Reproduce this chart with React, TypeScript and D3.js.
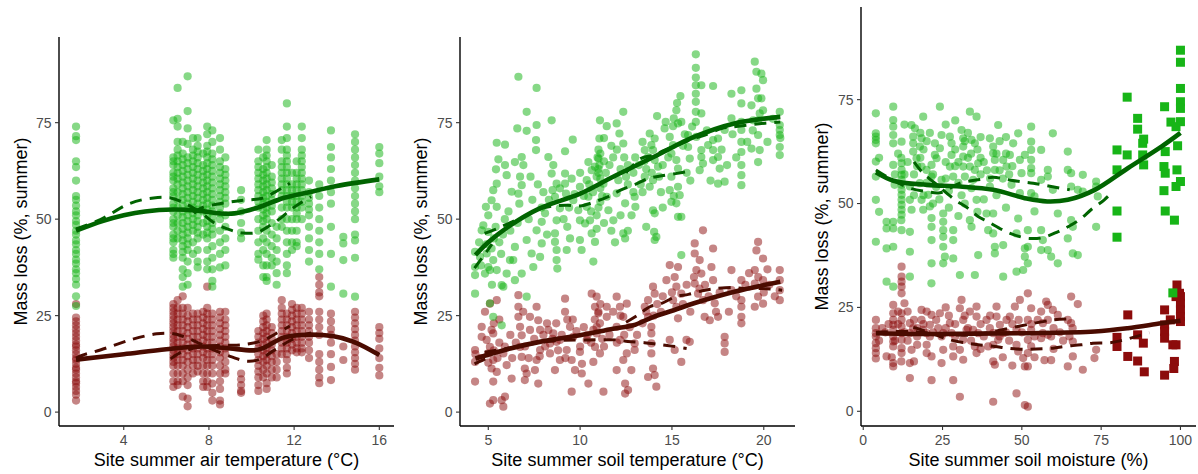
import React from "react";
import * as d3 from "d3";

// ---------- Panel 1: air temperature (sites = columns) ----------
const p1Sites = [1.76, 6.33, 6.53, 6.77, 7.0, 7.25, 7.47, 7.73, 7.92, 8.16, 8.52, 8.77, 9.51, 10.32, 10.55, 10.71, 10.95, 11.18, 11.42, 11.66, 11.9, 12.12, 12.36, 12.7, 13.18, 13.73, 14.31, 14.86, 16.0];
const p1GreenBySite = [
  [74, 71.5, 70.5, 65, 63.5, 60, 56, 55, 53.5, 52, 51, 49.5, 48.5, 47, 46, 44.5, 43.5, 42, 41, 39.5, 38.5, 37, 36, 34.5, 33, 30, 27.5],
  [75.6, 66, 65, 64, 62, 61, 60, 58, 57, 56, 54, 53, 52, 50, 49, 48, 46, 45, 44, 42, 41, 40],
  [84, 76, 74, 70, 68, 66.5, 65, 63.5, 62, 60.5, 59, 57, 55, 53, 51, 49, 47, 45],
  [70, 67, 65.5, 64, 62.5, 61, 59.5, 58, 56.5, 55, 53.5, 52, 50.5, 49, 47.5, 46, 44.5, 43, 41.5, 40, 37, 35, 32.5],
  [87, 78, 73.5, 69.5, 66, 64.5, 63, 61.5, 60, 58.5, 57, 55.5, 54, 52.5, 51, 49.5, 48, 46.5, 45, 43.5, 42, 39, 36, 33],
  [71, 68, 66.5, 65, 63.5, 62, 60.5, 59, 57.5, 56, 54.5, 53, 51.5, 50, 48.5, 47, 44, 41],
  [71, 69, 67.5, 66, 64.5, 63, 61.5, 60, 58.5, 57, 55.5, 54, 52.5, 51, 49.5, 48, 46.5, 45, 42, 39, 37.5],
  [67, 64, 62.5, 61, 59.5, 58, 56.5, 55, 53.5, 52, 49, 46],
  [74, 72, 69, 67.5, 66, 64.5, 63, 61.5, 60, 58.5, 57, 55.5, 54, 52.5, 51, 49.5, 48, 46.5, 45, 42, 39, 37],
  [73, 70, 67, 65.5, 64, 62.5, 61, 59.5, 58, 56.5, 55, 53.5, 52, 50.5, 49, 47.5, 46, 43, 40, 37, 34, 32.5],
  [71, 68, 65, 63.5, 62, 60.5, 59, 57.5, 56, 54.5, 53, 51.5, 50, 47, 44, 41, 37.5],
  [66, 63, 61.5, 60, 58.5, 57, 55.5, 54, 51, 48, 45, 42, 38],
  [57.5, 55, 52, 49, 46.5, 45],
  [68, 65, 63.5, 62, 60.5, 59, 57.5, 56, 54.5, 53, 50, 47, 44, 41, 39.5],
  [66, 63, 61.5, 60, 58.5, 57, 55.5, 54, 52.5, 51, 49.5, 48, 45, 42, 38, 35],
  [70.5, 68, 66.5, 65, 63.5, 62, 60.5, 59, 57.5, 56, 54.5, 53, 51.5, 50, 47, 44, 41, 38, 35, 34],
  [64, 61, 59.5, 58, 56.5, 55, 53.5, 52, 49, 46, 43, 40, 38],
  [48, 45, 42, 39, 36, 33],
  [70.5, 68, 65, 63.5, 62, 60.5, 59, 57.5, 56, 53, 50, 48],
  [80, 74, 71, 68, 66.5, 65, 63.5, 62, 60.5, 59, 57.5, 56, 54.5, 53, 50, 47, 44, 41, 38, 36],
  [62, 59, 57.5, 56, 54.5, 53, 50, 47, 44, 42],
  [65, 62, 60.5, 59, 57.5, 56, 54.5, 53, 51.5, 50, 47, 44, 43],
  [74, 71, 68, 66.5, 65, 63.5, 62, 60.5, 59, 57.5, 56, 54.5, 53, 50],
  [60, 57, 55.5, 54, 52.5, 51, 48, 45, 42, 39],
  [59, 56, 53, 50, 47, 44, 41, 37],
  [73, 68.7, 66, 63, 60, 57, 54, 48, 41, 32.5],
  [45.4, 43.7, 39.4, 30.7],
  [72, 70, 68, 66, 64, 62, 60, 58, 56, 54, 52, 50, 46, 44.5, 40, 29.9],
  [68.7, 67, 64.5, 61, 58.5, 57],
];
const p1RedBySite = [
  [28, 24.5, 23.5, 22.5, 21.5, 20.5, 19.5, 18.5, 17.5, 17, 16, 15, 14, 13.5, 12.5, 11.5, 11, 10, 9, 8, 7.5, 6.5, 5.5, 4.5, 3],
  [28, 27, 26, 25, 24, 23, 22, 21, 20, 19, 18, 17, 16, 15, 14, 13, 12, 10, 8, 6.5],
  [29, 27, 25.5, 24, 22.5, 21, 19.5, 18, 16.5, 15, 13.5, 12, 10, 8, 7],
  [30, 27, 25.5, 24, 22.5, 21, 19.5, 18, 16.5, 15, 13.5, 12, 10, 8, 4],
  [27, 25, 23.5, 22, 20.5, 19, 17.5, 16, 14.5, 13, 11, 9, 7, 3.5, 1.5],
  [25.5, 24, 22.5, 21, 19.5, 18, 16.5, 15, 13.5, 12, 10],
  [25.5, 24, 22.5, 21, 19.5, 18, 16.5, 15, 13.5, 12, 10.5],
  [26, 24.5, 23, 21.5, 20, 18.5, 17, 15.5, 14, 12, 10, 8, 6.5],
  [32.5, 27, 25.5, 24, 22.5, 21, 19.5, 18, 16.5, 15, 13.5, 12, 10, 8, 6.5],
  [25.5, 24, 22.5, 21, 19.5, 18, 16.5, 15, 13.5, 12, 10, 7.4, 5, 3],
  [26, 24.5, 23, 21.5, 20, 18.5, 17, 15.5, 14, 12, 10, 8, 6, 3, 2],
  [26, 24, 22.5, 21, 19.5, 18, 16.5, 15, 13, 11, 10],
  [10, 8.5, 7, 5.5, 5],
  [21, 19.5, 18, 16.5, 15, 13.5, 12, 10.5, 9, 7, 5.5],
  [25, 23.5, 22, 20.5, 19, 17.5, 16, 14.5, 13, 11, 9],
  [25.5, 24, 22.5, 21, 19.5, 18, 16.5, 15, 13.5, 12, 10, 7.5, 6],
  [22, 20.5, 19, 17.5, 16, 14.5, 13, 11, 9],
  [15, 13, 11, 9],
  [29, 27, 25.5, 24, 22.5, 21, 19.5, 18, 16.5, 15],
  [25.5, 24, 22.5, 21, 19.5, 18, 16.5, 15, 13.5, 11.5, 10],
  [28, 26.5, 25, 23.5, 22, 20.5, 19, 17.5, 16],
  [27, 25.5, 24, 22.5, 21, 19.5, 18, 16.5, 15.5],
  [27, 25.5, 24, 22.5, 21, 19.5, 18, 16.5, 15.5],
  [26, 24, 22.5, 21, 19.5, 18, 16, 14],
  [35, 33, 31, 30, 26, 24, 22, 20, 15, 13, 11, 9, 7.5],
  [25.5, 23.5, 21.5, 20, 18, 15, 11.7, 8.3],
  [17, 13.5],
  [26, 24.5, 23, 21.5, 20, 18.5, 17, 15.5, 14, 12.5, 11],
  [22, 20.5, 19, 16.5, 14, 11.5, 9.5],
];
const p1GreenSolid = [[1.76, 47], [3, 49.5], [4, 51], [5, 52], [6.3, 52.5], [7.5, 52.2], [8.5, 51.5], [9.2, 51.5], [10.3, 53], [11.5, 55.5], [12.7, 57], [14, 58.6], [16, 60.3]];
const p1RedSolid = [[1.76, 13.6], [4, 15], [6, 16.3], [7.6, 17], [8.8, 16.6], [10.1, 16], [10.5, 16.5], [11.5, 19.3], [12.3, 20], [13.8, 19.7], [14.8, 18.2], [16, 14.8]];
const p1GreenDashed = [
  [[1.76, 47.5], [2.9, 49.9], [4.3, 54.1], [5.4, 55.5], [6.2, 55.5], [6.8, 54.3], [7.6, 51.8], [8.2, 49.2], [9.0, 47.2], [9.6, 46.4], [10.3, 46.6], [10.7, 47.8], [11.3, 50], [11.8, 52.3], [12.3, 54.2], [12.8, 55.8]],
  [[7.3, 51.5], [7.6, 52.8], [8.7, 54.2], [9.6, 54.9], [10.5, 55.4], [11.1, 57], [11.5, 58.3], [11.8, 59.3]],
];
const p1RedDashed = [
  [[1.76, 14], [2.1, 14.8], [2.9, 16.1], [4.3, 18.7], [5.55, 20.3], [6.2, 20.4], [6.8, 19.6], [7.4, 18.2], [8.05, 16.5], [9.07, 14.3], [9.8, 13.2], [10.4, 13.7], [11, 15.8], [11.8, 18.5], [12.3, 19.8], [12.8, 20.5]],
  [[6.2, 13.8], [6.7, 15.5], [7.5, 16.8], [8.5, 17.3], [9.5, 17.4], [10.5, 18.5], [11.2, 20.5], [11.8, 22.3]],
];

// ---------- Panel 2: soil temperature ----------
const p2Green = [
  [6.64, 86.9], [7.63, 84.0], [7.09, 77.8], [6.58, 73.5], [5.46, 69.8], [5.91, 69.3], [7.09, 72.9], [7.6, 70.5], [7.6, 67.9], [8.45, 75.6], [7.63, 74.4], [9.6, 70.6], [9.18, 67.6],
  [5.55, 65.5], [5.42, 62.9], [5.91, 64], [6.0, 61.4], [6.45, 64.8], [6.82, 66.1], [6.91, 64], [6.73, 61], [6.82, 58.8], [6.64, 56.6], [6.69, 54],
  [5.46, 59.2], [5.27, 57.5], [5.18, 54.9], [5.46, 53.2], [4.87, 53.2], [6.27, 57.1], [4.73, 48.4], [4.64, 47.1], [5.0, 46.7],
  [4.28, 41.5], [4.55, 40.2], [4.91, 41.1], [5.18, 42.4], [5.27, 39.4], [5.0, 37.6], [4.82, 35.9], [5.09, 36.8], [4.28, 37.6], [4.28, 35.5], [4.28, 30.7],
  [5.46, 36.8], [5.73, 32.9], [5.82, 32.5], [6.0, 35.9], [6.18, 39.4], [5.09, 28.2], [5.27, 24.7], [5.73, 22.5], [7.09, 29.9],
  [6.45, 34.2], [6.82, 35.9], [6.36, 39.4], [6.45, 42.8],
  [7.09, 44.6], [7.36, 41.1], [7.45, 37.6], [7.82, 40.2], [7.91, 43.7], [7.63, 47.1], [7.91, 49.3], [8.09, 51.5],
  [8.27, 66.1], [8.54, 64], [8.45, 61.8], [8.72, 59.2], [8.63, 55.8], [8.9, 52.8], [8.72, 49.7], [8.63, 46.3], [8.63, 44.1], [8.72, 42], [8.72, 39.4], [8.76, 37.2],
  [9.18, 61.8], [9.18, 59.2], [9.23, 56.6], [9.54, 60.5], [9.99, 58.4], [9.63, 54.9], [9.9, 52.3], [9.99, 49.7], [9.45, 45], [9.27, 42],
  [10.45, 64.8], [10.63, 62.7], [10.81, 63.6], [11.0, 65.7], [11.05, 70.9], [11.08, 75.6], [11.45, 74.1], [11.99, 74.8], [12.14, 72.2], [12.35, 69.6],
  [10.36, 60.1], [10.45, 55.8], [10.36, 53.2], [10.54, 49.7], [10.63, 46.3], [10.81, 44.1], [10.72, 39], [10.08, 42], [9.99, 44.6], [10.27, 48.9],
  [11.27, 59.2], [11.45, 55.8], [11.54, 52.3], [11.81, 49.7], [11.99, 56.7], [12.45, 54.1], [12.35, 46.3], [12.45, 45], [12.08, 60.1], [12.35, 77.8],
  [11.0, 68], [11.1, 67], [11.0, 63], [10.9, 61], [11.1, 58], [11.2, 56], [11.0, 53], [10.9, 51], [11.4, 62], [11.6, 64], [11.8, 66], [12.0, 68], [12.4, 66], [12.6, 64], [12.5, 61], [12.6, 59],
  [12.9, 62], [13.2, 64], [13.0, 66], [13.4, 70], [13.6, 63], [13.4, 57], [12.8, 51], [12.6, 47], [12.2, 63], [11.7, 69], [11.3, 71], [10.2, 56], [9.7, 56.5], [9.4, 53], [10.0, 62],
  [8.3, 55], [8.0, 57], [7.7, 59], [7.3, 61], [7.4, 55], [7.9, 53], [8.2, 46], [7.2, 50], [6.6, 49], [6.2, 47], [5.8, 46], [5.6, 44], [5.4, 48], [5.0, 51], [4.5, 44], [4.6, 38], [5.2, 33],
  [5.7, 41], [6.1, 52], [5.9, 50], [4.9, 43.5], [5.3, 45], [10.7, 57], [10.5, 59], [11.3, 65],
  [11.1, 60.5], [11.0, 62], [11.05, 64], [10.95, 66], [11.1, 54.5], [10.6, 52], [10.9, 47.5], [11.3, 49], [9.1, 50], [9.3, 48], [8.9, 58], [8.5, 57.5], [12.9, 57], [13.9, 62], [13.5, 65],
  [16.3, 92.7], [16.3, 89.2], [16.3, 86.7], [16.3, 84.7], [16.3, 82.5], [16.3, 80.4], [16.3, 77.8], [16.3, 75.2], [16.6, 84.7], [16.6, 77.4], [17.24, 84.5],
  [15.46, 81.9], [15.28, 80.1], [15.24, 78.2], [15.1, 76.1], [15.06, 74.1], [15.33, 74.8], [15.51, 75.2], [14.66, 75.2], [14.19, 76.7], [14.6, 73.5],
  [13.79, 72.2], [14.06, 70.9], [13.88, 69.2], [13.52, 67.9], [13.7, 66.1], [13.97, 67.9], [14.06, 65.3], [14.24, 63.6],
  [13.52, 61], [13.79, 58.4], [13.97, 60.1], [12.97, 55.8], [13.01, 53.2], [13.97, 52.3], [14.06, 51.5], [14.03, 46.7], [14.15, 45.4], [14.06, 44.6],
  [14.88, 71.3], [15.06, 69.2], [14.97, 67], [15.24, 65.3], [15.33, 63.1], [14.97, 61], [14.88, 57.5], [15.33, 58.4], [15.42, 56.2], [15.24, 54.1], [14.97, 54.5], [15.51, 50.6], [15.33, 50.6],
  [15.88, 71.8], [15.88, 68.7], [15.97, 65.7], [16.33, 71.3], [16.6, 67.9], [16.6, 66.1], [16.69, 64.4], [16.51, 62.7], [16.97, 69.2], [17.24, 70.5], [17.51, 70.9], [17.24, 67.9], [17.24, 65.3], [17.51, 66.1], [17.6, 63.1], [17.51, 59.2], [17.87, 59.7],
  [17.87, 73.1], [18.24, 82.5], [18.24, 76.1], [18.78, 83.4], [18.78, 80], [18.78, 75.2], [18.78, 73.1], [18.78, 70], [18.78, 67.4], [18.78, 64], [18.78, 61.4], [18.78, 58.8],
  [19.33, 79.5], [19.42, 75.6], [19.69, 71.8], [19.33, 68.3], [19.78, 67.9], [19.51, 90.8], [19.6, 88.2], [19.87, 87.7], [19.96, 86], [19.6, 83.8], [19.69, 81.3], [19.87, 81.3], [19.78, 77.4], [19.96, 78.2], [19.69, 64.8], [19.69, 75.6],
  [20.87, 77.8], [20.87, 74.4], [20.87, 73.1], [20.87, 71.8], [20.87, 68.7], [20.87, 66.6], [15.51, 40.7],
  [14.3, 61], [14.5, 64], [14.8, 66], [15.6, 69], [15.7, 72], [16.1, 74], [16.9, 73], [17.7, 68], [18.3, 72], [18.5, 66], [19.1, 70], [19.4, 73], [20.2, 70], [20.5, 76], [20.9, 71],
  [16.0, 60], [15.8, 62], [14.4, 57], [14.5, 53], [13.3, 59], [12.2, 51], [11.7, 47], [11.9, 44], [13.6, 48], [17.1, 60], [18.0, 64], [15.1, 56],
];
const p2Red = [
  [4.28, 16.1], [4.28, 13.0], [4.28, 7.9], [4.64, 22.1], [4.64, 19.5], [4.91, 18.7], [5.18, 21.3], [5.27, 20.4], [5.09, 16.9], [5.0, 15.2], [5.27, 13.5], [5.18, 11.3], [5.27, 7.9], [5.46, 10.4],
  [4.82, 26], [5.09, 28.1], [5.46, 29], [5.09, 2.2], [5.27, 3.1], [5.73, 3.1], [5.91, 4], [5.82, 1.4],
  [5.82, 15.2], [6.0, 12.2], [6.27, 8.7], [6.64, 30.3], [6.64, 27.3], [6.64, 24.7], [6.73, 22.1], [6.82, 19.9], [6.73, 16.9], [6.82, 14.3], [6.99, 11.3], [7.09, 10], [6.99, 8.3],
  [7.27, 24.7], [7.27, 21.3], [7.63, 27.3], [7.72, 23.8], [7.82, 21.3], [7.82, 16.1], [7.72, 7.4], [7.63, 13.5], [7.54, 10.9],
  [8.27, 21.3], [8.54, 20.4], [8.72, 18.2], [8.36, 15.2], [8.9, 13.5], [8.63, 10.9], [8.9, 18.7], [8.36, 17.8],
  [9.18, 29.4], [9.18, 26], [9.45, 22.1], [9.63, 19.5], [9.27, 16.1], [9.54, 13.5], [9.72, 10.9], [9.54, 5.3], [10.09, 10], [9.99, 15.6], [10.36, 18.7], [10.45, 7.4],
  [10.63, 30.7], [10.9, 29.9], [10.81, 27.3], [10.99, 25.6], [11.08, 23], [10.9, 20.4], [10.81, 16.9], [11.08, 15.2], [10.72, 13.0], [11.27, 5.3], [10.72, 21.3], [11.45, 27.3], [11.45, 24.7],
  [11.99, 29.9], [12.17, 27.3], [12.54, 28.1], [12.35, 24.7], [11.99, 22.1], [12.17, 18.7], [12.54, 15.2], [12.35, 13.5], [11.99, 10.9], [12.45, 7.4], [12.45, 4.8],
  [16.69, 47.1], [16.24, 43.7], [16.24, 41.1], [16.51, 39.4], [16.33, 36.8], [16.6, 35.9], [16.24, 33.3], [16.42, 30.7], [16.69, 29], [16.78, 24.7],
  [14.88, 38.1], [15.33, 37.6], [15.15, 35], [14.7, 34.2], [15.24, 32.5], [15.51, 30.7], [15.06, 29], [15.24, 27.3], [15.33, 24.3], [14.88, 18.7], [15.15, 16.1], [15.51, 13], [15.79, 18.7], [15.97, 18.2],
  [13.97, 32.5], [14.06, 30.7], [13.7, 29], [13.52, 27.3], [13.7, 24.7], [13.88, 22.1], [13.88, 20.4], [13.88, 17.8], [13.88, 15.2], [14.06, 9.6], [13.97, 11.3], [14.15, 6.6], [13.7, 9.1],
  [12.97, 17.8], [12.97, 16.1], [12.79, 10.9], [12.61, 5.7],
  [17.24, 42.4], [17.15, 37.6], [17.24, 34.2], [17.33, 28.2], [17.51, 24.7], [17.06, 23.8], [17.87, 19.5], [17.87, 17.8], [17.87, 15.6], [18.24, 36.8], [18.24, 31.6], [18.78, 34.2], [18.78, 29], [18.78, 27.3], [18.78, 24.7], [18.78, 23],
  [19.51, 36.8], [19.51, 33.3], [19.69, 44.1], [19.6, 41.9], [19.96, 39.8], [19.96, 34.2], [19.69, 29.9], [19.51, 27.3], [19.96, 28.1], [20.87, 36.8], [20.87, 34.2], [20.87, 31.6], [20.87, 29],
  [10.9, 22], [11.0, 26], [11.1, 28], [10.8, 24], [11.2, 19], [11.3, 17], [10.6, 18], [10.4, 20], [10.2, 22], [10.0, 17], [9.8, 21], [9.0, 20], [8.8, 16], [8.5, 19], [8.2, 23], [8.0, 20],
  [7.5, 19], [7.0, 17], [6.5, 18], [6.2, 20], [5.9, 17], [5.6, 18], [5.3, 16], [5.5, 14], [4.6, 14], [4.3, 15], [5.0, 12.8], [6.3, 14], [7.8, 14.5], [9.2, 14], [10.1, 12.5],
  [11.6, 20], [12.0, 18], [12.4, 20], [12.7, 22], [13.4, 23], [13.6, 26], [14.2, 28], [14.4, 26], [14.0, 25], [14.5, 30], [15.0, 31], [15.6, 28], [15.8, 33], [16.2, 35], [16.5, 32],
  [16.0, 26], [17.0, 30], [17.6, 31], [18.1, 26], [18.5, 30], [19.0, 33], [19.2, 36], [19.7, 35], [20.3, 33], [20.0, 31], [20.6, 30], [20.2, 37], [17.4, 26], [16.8, 33], [13.1, 20],
  [12.2, 25], [11.8, 26], [9.6, 24], [9.3, 24], [8.7, 23], [8.1, 17], [7.2, 14], [6.9, 26], [5.6, 24], [5.3, 23],
];
const p2GreenSolid = [[4.3, 40.7], [5, 44], [6.2, 48.4], [7.8, 52.8], [10, 56.6], [11.8, 61], [14, 66.1], [16.2, 71.3], [18.4, 74.8], [20.9, 76.5]];
const p2RedSolid = [[4.3, 13.9], [6.2, 16.5], [7.8, 18.2], [10, 19.9], [11.8, 21.6], [12.9, 22.5], [14, 24.7], [15.1, 26.4], [16.2, 28.2], [18.4, 31.2], [20.9, 33.8]];
const p2GreenDashed = [
  [[4.25, 37.3], [4.7, 40.2], [5.2, 43.5]],
  [[4.8, 46.3], [5.5, 47.6], [6.3, 49.3], [6.9, 50.6], [7.6, 52.3], [8.5, 53.4], [9.3, 53.6], [10, 53.4], [10.8, 54.5], [11.5, 55.8], [12.2, 57.5], [13, 59], [13.7, 60.5], [14.3, 61.1], [15.2, 61.8], [15.9, 62.4]],
  [[12.5, 62], [13.3, 65.7], [14, 66.6], [14.8, 68.3], [15.3, 69.2], [16.2, 70.9], [16.8, 71.8], [17.7, 73.5], [18.3, 73.9], [19.5, 74.6], [20.9, 75.2]],
];
const p2RedDashed = [
  [[4.25, 12.5], [4.7, 13.5], [5.2, 14.5]],
  [[4.8, 15.5], [6, 16.5], [7.5, 17.8], [9, 18.6], [10.5, 18.7], [12, 18.7], [12.6, 18.3], [13.5, 18], [14.2, 17.6], [15, 17.1], [15.8, 16.5]],
  [[12.5, 23.3], [13.1, 25], [13.8, 27.3], [14.4, 28.1], [15.2, 29.9], [15.9, 30.5], [16.8, 31.6], [17.4, 32], [18.3, 32.3], [18.9, 32], [19.9, 32], [20.6, 31.8], [21, 31.6]],
];

// ---------- Panel 3: soil moisture ----------
const p3Green = [
  [3.98, 71.7], [3.98, 66.9], [3.98, 66.1], [3.98, 65.3], [3.98, 64.5], [3.98, 60.1], [3.98, 56.5], [3.98, 50.9], [3.98, 40.8],
  [9.46, 73.3], [9.46, 70.1], [9.46, 68.5], [9.46, 66.5], [9.46, 64.5], [9.46, 59.3], [9.9, 54.5],
  [7.36, 45.6], [7.36, 44], [9.46, 45.6], [9.46, 44], [7.36, 39.2], [9.46, 39.6], [12.09, 43.6],
  [12.09, 59.7], [12.09, 58.1], [12.09, 56.9], [12.09, 55.7], [12.09, 54.5], [12.09, 53.3], [12.09, 52.1], [12.09, 50.9], [12.09, 49.7], [12.09, 48.5], [12.09, 47.3], [12.09, 64.9],
  [14.71, 43.2], [14.71, 38.4], [14.71, 32.4], [7.36, 31.2], [9.46, 30], [21.5, 30.8],
  [15.2, 68.9], [16.29, 68.1], [15.76, 66.1], [15.76, 64.5], [15.76, 62.5], [18.91, 70.9], [18.39, 65.7], [17.86, 63.7], [16.81, 60.9], [18.39, 58.9], [19.96, 58.1], [21.54, 59.3], [23.11, 60.9], [24.17, 63.3],
  [14.71, 54.1], [14.71, 50.9], [15.24, 48.5], [17.86, 54.9], [18.39, 50.9], [18.91, 48.5], [21.01, 49.3], [20.49, 52.1], [21.54, 56.5],
  [21.54, 46.5], [21.54, 44.4], [21.54, 41.2], [21.54, 35.6], [25.22, 47.6], [25.22, 45.6], [25.22, 43.6], [25.22, 42], [25.22, 39.6], [25.74, 37.2], [25.22, 35.6], [28.37, 43.6], [28.37, 41.2], [28.37, 36.8], [30.47, 32.8],
  [24.17, 73.3], [24.69, 66.5], [22.59, 64.5], [22.59, 61.7], [24.69, 55.7], [27.32, 66.1], [27.84, 64.5], [27.84, 61.7], [27.32, 58.9], [28.37, 56.5], [30.99, 67.7], [31.52, 65.7], [31.52, 63.7], [31.52, 61.3], [31.52, 58.9], [32.04, 56.5],
  [33.62, 72.1], [35.72, 70.9], [34.14, 65.3], [35.19, 64.5], [33.62, 58.9], [35.19, 58.1], [36.24, 59.7], [34.66, 55.7], [34.14, 53.7], [35.72, 50.9],
  [33.62, 46], [34.14, 44.4], [35.19, 32.8], [36.24, 37.6],
  [39.92, 65.7], [40.97, 63.7], [41.49, 60.5], [41.49, 58.1], [42.54, 68.9], [40.97, 62.1], [39.92, 54.1], [38.87, 47.6], [40.97, 47.6], [39.39, 43.6], [40.97, 42.8], [41.49, 39.6], [41.49, 38],
  [44.12, 40], [44.12, 32.4], [44.12, 60.5], [45.17, 58.9], [46.22, 61.7], [46.75, 54.5], [47.27, 64.5], [48.85, 66.9], [49.37, 60.5], [50.95, 61.7], [48.85, 46.4], [48.32, 42.8], [48.32, 33.6], [50.42, 34],
  [49.37, 52.5], [49.9, 57.3], [50.95, 39.2], [50.95, 37.2],
  [52.94, 68.5], [52.94, 64.9], [52.94, 62.9], [52.94, 60.5], [52.94, 58.5], [52.94, 57.3], [52.94, 52.5], [53.99, 51.7], [53.99, 48.1], [51.89, 43.6], [51.89, 39.6], [51.89, 35.6],
  [56.09, 62.9], [56.09, 55.7], [58.19, 58.1], [58.19, 56.5], [59.77, 66.9], [59.77, 53.3], [61.34, 47.6], [56.09, 43.6], [56.62, 41.2], [56.09, 38.8], [58.19, 38.8], [59.24, 37.2], [61.34, 35.6],
  [64.49, 62.5], [64.49, 58.1], [65.54, 57.3], [65.54, 54.1], [69.22, 56.9], [67.64, 53.3], [69.22, 52.9], [65.54, 46], [66.07, 44.4], [64.49, 41.6], [66.07, 38], [67.64, 37.6],
  [73.42, 55.3], [73.42, 54.1], [73.94, 51.7], [73.42, 44.4],
  [11, 62], [12, 61], [13, 57], [14, 60], [16, 57], [17, 59], [18, 61], [19, 63], [20, 65], [20, 55], [22, 57], [23, 54], [26, 56], [26, 60], [27, 53], [29, 63], [29, 59], [30, 55], [31, 52],
  [32, 65], [33, 61], [34, 62], [36, 63], [37, 61], [37, 57], [38, 60], [39, 58], [40, 56], [42, 62], [43, 58], [44, 56], [45, 62], [46, 57], [47, 59], [12, 46], [16, 52], [19, 52], [22, 50],
  [24, 51], [27, 49], [30, 47], [32, 50], [36, 48], [38, 51], [42, 52], [45, 49], [13, 69], [18, 67], [21, 67], [26, 69], [29, 70], [33, 67], [37, 66], [43, 65], [45, 66], [30, 60], [10, 57], [5, 61], [5, 48],
];
const p3Red = [
  [3.98, 18.8], [3.98, 18], [3.98, 16.4], [3.98, 15.2], [3.98, 14], [3.98, 12.7], [3.98, 20],
  [7.36, 13.2], [9.46, 23.6], [9.46, 22], [9.46, 20.8], [9.46, 19.6], [9.46, 18], [9.46, 16.8], [9.46, 15.6], [9.46, 11.6], [9.46, 10.8], [9.46, 25.6],
  [12.09, 34.8], [12.09, 32.4], [12.09, 31.2], [12.09, 30], [12.09, 28.4], [12.09, 23.6], [12.09, 22], [12.09, 20.4], [12.09, 18.8], [12.09, 17.2], [12.09, 15.2], [12.09, 14],
  [14.71, 21.2], [14.71, 18.8], [15.76, 20], [14.71, 11.6], [14.71, 8], [15.24, 14.8],
  [18.39, 24.4], [18.39, 22], [18.91, 19.6], [19.96, 18.8], [21.01, 20.8], [21.01, 18], [21.54, 23.2], [21.54, 13.2], [21.54, 7.5], [24.17, 23.6], [23.64, 20], [24.69, 18], [25.22, 14.8], [24.69, 11.6], [25.22, 18.8],
  [27.32, 21.2], [27.84, 18.8], [28.37, 15.6], [28.37, 7.5], [28.37, 13.2], [30.47, 3.5],
  [30.99, 26.8], [30.47, 24.8], [31.52, 22], [32.57, 19.6], [31.52, 17.2], [30.47, 14.8], [31.52, 12.4], [33.62, 24], [35.72, 25.2], [35.72, 22.8], [34.66, 19.6], [35.19, 15.6], [35.72, 14], [36.24, 18.8],
  [38.87, 22], [39.92, 20], [40.97, 18.8], [42.02, 25.2], [42.02, 22.8], [42.54, 17.2], [40.97, 12], [41.49, 11.2], [39.39, 15.6], [40.97, 2.3], [43.07, 20.8], [45.17, 22], [44.12, 18.8], [46.22, 22.8],
  [47.8, 25.2], [48.32, 19.6], [48.32, 16], [48.85, 14.4], [49.37, 26.8], [50.42, 12.8], [50.95, 10.8], [48.32, 4.3], [50.95, 1.5],
  [51.89, 28.4], [52.94, 24.8], [51.89, 22], [52.94, 19.6], [51.89, 17.2], [52.94, 15.6], [51.89, 14], [51.89, 10.8], [51.89, 1.1],
  [56.09, 24], [57.67, 26.4], [58.19, 25.6], [59.77, 24.4], [61.34, 23.2], [58.19, 22], [56.62, 21.2], [56.62, 18.8], [58.19, 18.4], [56.09, 17.6], [59.24, 18], [57.14, 12.3], [59.24, 12.3],
  [64.49, 22], [65.54, 21.2], [65.02, 18], [66.07, 16.8], [66.07, 13.2], [64.49, 10.8], [65.54, 27.6], [67.64, 25.8], [69.22, 10], [73.42, 14.8], [72.89, 12.8],
  [5, 17], [7, 19], [8, 21], [10, 17], [11, 21], [13, 19], [14, 17], [16, 22], [17, 18], [17, 16], [19, 21], [20, 16], [22, 19], [23, 22], [26, 20], [27, 23], [29, 21], [29, 18], [33, 20], [34, 17],
  [37, 21], [38, 18], [40, 23], [41, 16], [43, 18], [45, 19], [46, 17], [47, 21], [49, 22], [50, 19], [53, 21], [54, 18], [55, 22], [60, 20], [62, 19], [63, 17], [66, 20], [4, 22], [9, 13], [12, 12],
  [16, 12], [20, 24], [26, 25], [32, 23], [37, 15], [44, 13], [47, 11], [54, 13], [60, 15], [17, 20], [20, 14], [14, 24], [6, 20], [11, 24], [13, 26],
];
const p3GreenSquares = [
  [80, 62.9], [80, 58.1], [80, 48.2], [80, 41.9], [83.2, 75.6], [83.2, 61.7], [86.5, 70.5], [86.5, 67.9], [88.4, 65.5], [88.1, 64.5], [88.1, 61.7], [88.4, 59.3],
  [95, 73.3], [95.2, 62.5], [94.8, 58.9], [95.2, 57.3], [94.8, 53.1], [95.2, 48.2], [97, 69.6], [98.6, 68.5], [99.1, 63.9], [98.1, 46.0], [98.9, 58.1], [98.6, 54.1],
  [100, 55.3], [100, 86.9], [100, 84], [100, 77.7], [100, 74.5], [100, 72.9], [100, 69.7], [97.6, 28.5],
];
const p3RedSquares = [
  [80, 17.8], [80, 15.6], [83.4, 23.2], [83.4, 13.2], [86.5, 12.1], [86.5, 18.4], [88.3, 16.4], [88.6, 9.5], [95, 24.4], [95, 20.8], [95, 19.2], [95, 17.6], [95, 8.7],
  [96.8, 22], [97.6, 16], [98.6, 16], [98.1, 12], [97.9, 10.3], [98.9, 30.4], [99.7, 28.4], [100, 27.6], [100, 26], [100, 24.4], [100, 22.8], [100, 21.6], [98.6, 27.6],
];
const p3GreenSolid = [[4, 57.5], [9.5, 55.5], [20, 54.5], [30.5, 54.1], [41, 53.3], [51.5, 51.2], [58, 50.5], [64.5, 50.9], [73, 53.3], [83.4, 58.5], [94, 63.7], [100, 67]];
const p3RedSolid = [[4, 18.8], [20, 18.6], [35, 18.7], [52, 18.8], [73, 19.2], [83.4, 20], [94, 21.2], [100, 21.8]];
const p3GreenDashed = [
  [[4, 58.1], [7.4, 56.5], [14.7, 53.7], [20, 52.9], [24.2, 52.6], [30.5, 54.9], [36.8, 55.8], [41, 56.3], [45.2, 55.8], [49.4, 55.3], [53.6, 54.9], [57.8, 54.3], [62, 53.7], [65.1, 53.3]],
  [[16, 60], [18.4, 57.7], [24, 54], [28.9, 50.9], [32.6, 49.1], [36.2, 46.9], [39.4, 45.6], [44.1, 43.6], [47.8, 42.4], [52.4, 41.6], [56.6, 41.8], [61.3, 43.2], [65, 44.6], [68.7, 46.4], [71.8, 48.5], [76, 50.9], [78.7, 52.9]],
];
const p3RedDashed = [
  [[4, 19], [15, 19.2], [25, 18.5], [35, 18.4], [43, 19.5], [52.5, 21], [60, 22], [64, 22.2]],
  [[15.8, 20.2], [18.4, 19.6], [24.2, 18], [27.3, 17.2], [32.6, 16.4], [36.2, 16], [41.5, 15.6], [45.2, 15.2], [50.4, 14.9], [54.5, 15], [59.8, 15.2], [63.4, 15.6], [68.7, 16], [72.4, 16.4], [77.6, 16.5], [81.3, 17], [86.5, 18.1], [90.2, 18.9]],
];

// ---------- Axis ticks & labels ----------
const p1XTicks = [4, 8, 12, 16];
const p2XTicks = [5, 10, 15, 20];
const p3XTicks = [0, 25, 50, 75, 100];
const yTicks = [0, 25, 50, 75];
const yLabel = "Mass loss (%, summer)";
const xLabels = ["Site summer air temperature (°C)", "Site summer soil temperature (°C)", "Site summer soil moisture (%)"];

type Pt = number[];

const p1Green: Pt[] = p1Sites.flatMap((s, i) => p1GreenBySite[i].map((v) => [s, v]));
const p1Red: Pt[] = p1Sites.flatMap((s, i) => p1RedBySite[i].map((v) => [s, v]));

const GREEN = "#17b517";
const RED = "#8c0b0b";
const GREEN_LINE = "#006400";
const RED_LINE = "#4a0b00";
const FONT = "'Liberation Sans', Arial, Helvetica, sans-serif";

interface PanelCfg {
  left: number; right: number; top: number; bottom: number;
  xDomain: number[]; yDomain: number[];
  xTicks: number[]; xLabel: string; yTitleX: number;
  green: Pt[]; red: Pt[]; greenSq: Pt[]; redSq: Pt[];
  gSolid: Pt[]; rSolid: Pt[]; gDash: Pt[][]; rDash: Pt[][];
}

const panels: PanelCfg[] = [
  { left: 59, right: 394, top: 37, bottom: 426, xDomain: [0.96, 16.69], yDomain: [-3.6, 97.2], xTicks: p1XTicks, xLabel: xLabels[0], yTitleX: 27,
    green: p1Green, red: p1Red, greenSq: [], redSq: [], gSolid: p1GreenSolid, rSolid: p1RedSolid, gDash: p1GreenDashed, rDash: p1RedDashed },
  { left: 460, right: 795, top: 37, bottom: 426, xDomain: [3.46, 21.7], yDomain: [-3.6, 97.2], xTicks: p2XTicks, xLabel: xLabels[1], yTitleX: 427,
    green: p2Green, red: p2Red, greenSq: [], redSq: [], gSolid: p2GreenSolid, rSolid: p2RedSolid, gDash: p2GreenDashed, rDash: p2RedDashed },
  { left: 861, right: 1196, top: 7, bottom: 426, xDomain: [-0.7, 104.9], yDomain: [-3.54, 97.3], xTicks: p3XTicks, xLabel: xLabels[2], yTitleX: 828,
    green: p3Green, red: p3Red, greenSq: p3GreenSquares, redSq: p3RedSquares, gSolid: p3GreenSolid, rSolid: p3RedSolid, gDash: p3GreenDashed, rDash: p3RedDashed },
];

function Panel({ cfg }: { cfg: PanelCfg }) {
  const x = d3.scaleLinear().domain(cfg.xDomain).range([cfg.left, cfg.right]);
  const y = d3.scaleLinear().domain(cfg.yDomain).range([cfg.bottom, cfg.top]);
  const line = d3.line<Pt>().x((d) => x(d[0])).y((d) => y(d[1])).curve(d3.curveCatmullRom.alpha(0.5));
  const r = 4.1;
  const sq = 9;
  return (
    <g>
      {cfg.red.map((d, i) => (
        <circle key={"r" + i} cx={x(d[0])} cy={y(d[1])} r={r} fill={RED} fillOpacity={0.5} />
      ))}
      {cfg.green.map((d, i) => (
        <circle key={"g" + i} cx={x(d[0])} cy={y(d[1])} r={r} fill={GREEN} fillOpacity={0.52} />
      ))}
      {cfg.redSq.map((d, i) => (
        <rect key={"rs" + i} x={x(d[0]) - sq / 2} y={y(d[1]) - sq / 2} width={sq} height={sq} fill={RED} />
      ))}
      {cfg.greenSq.map((d, i) => (
        <rect key={"gs" + i} x={x(d[0]) - sq / 2} y={y(d[1]) - sq / 2} width={sq} height={sq} fill={GREEN} />
      ))}
      {cfg.rDash.map((d, i) => (
        <path key={"rd" + i} d={line(d) || ""} fill="none" stroke={RED_LINE} strokeWidth={3} strokeDasharray="12 8" />
      ))}
      {cfg.gDash.map((d, i) => (
        <path key={"gd" + i} d={line(d) || ""} fill="none" stroke={GREEN_LINE} strokeWidth={3} strokeDasharray="12 8" />
      ))}
      <path d={line(cfg.rSolid) || ""} fill="none" stroke={RED_LINE} strokeWidth={4.6} strokeLinecap="butt" />
      <path d={line(cfg.gSolid) || ""} fill="none" stroke={GREEN_LINE} strokeWidth={4.6} strokeLinecap="butt" />
      {/* axes */}
      <line x1={cfg.left} x2={cfg.left} y1={cfg.top} y2={cfg.bottom} stroke="#000" strokeWidth={1.4} />
      <line x1={cfg.left} x2={cfg.right} y1={cfg.bottom} y2={cfg.bottom} stroke="#000" strokeWidth={1.4} />
      {yTicks.map((t) => (
        <g key={"yt" + t}>
          <line x1={cfg.left - 4} x2={cfg.left} y1={y(t)} y2={y(t)} stroke="#333" strokeWidth={1.1} />
          <text x={cfg.left - 7.5} y={y(t)} dy="0.35em" textAnchor="end" fontSize={14} fill="#4d4d4d" fontFamily={FONT}>{t}</text>
        </g>
      ))}
      {cfg.xTicks.map((t) => (
        <g key={"xt" + t}>
          <line x1={x(t)} x2={x(t)} y1={cfg.bottom} y2={cfg.bottom + 4} stroke="#333" strokeWidth={1.1} />
          <text x={x(t)} y={445} textAnchor="middle" fontSize={14} fill="#4d4d4d" fontFamily={FONT}>{t}</text>
        </g>
      ))}
      <text x={(cfg.left + cfg.right) / 2} y={466} textAnchor="middle" fontSize={18} fill="#000" fontFamily={FONT}>{cfg.xLabel}</text>
      <text transform={`translate(${cfg.yTitleX},${(cfg.top + cfg.bottom) / 2}) rotate(-90)`} textAnchor="middle" fontSize={18} fill="#000" fontFamily={FONT}>{yLabel}</text>
    </g>
  );
}

export default function App() {
  return (
    <svg width={1198} height={474} style={{ position: "absolute", left: 0, top: 0, background: "#fff", display: "block" }}>
      <rect x={0} y={0} width={1198} height={474} fill="#fff" />
      {panels.map((p, i) => (
        <Panel key={i} cfg={p} />
      ))}
    </svg>
  );
}
